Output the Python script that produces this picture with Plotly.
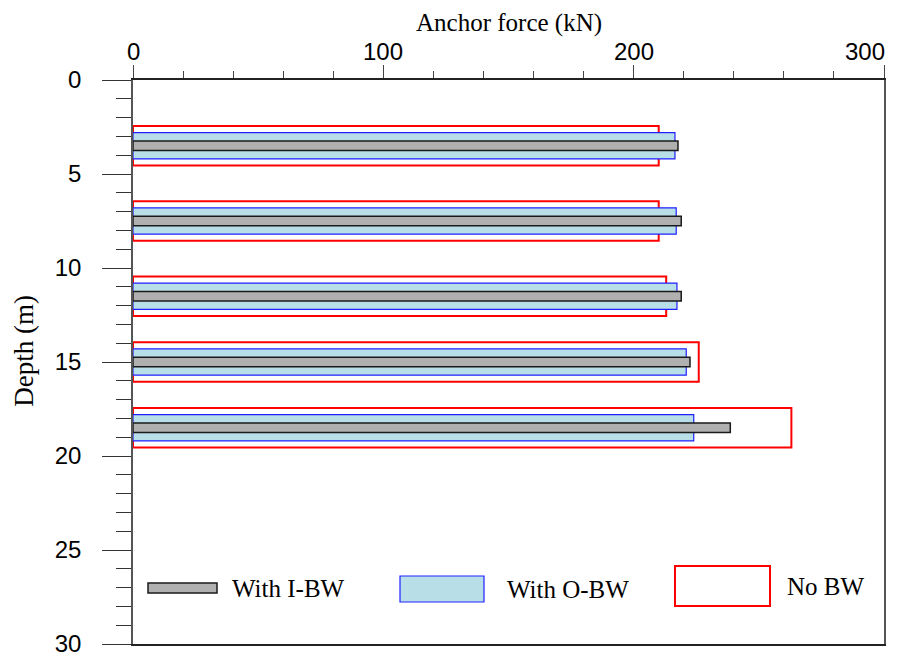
import plotly.graph_objects as go

depths = [3.5, 7.5, 11.5, 15.0, 18.5]
no_bw = [210, 210, 213, 226, 263]
with_obw = [216.5, 217, 217.3, 221, 224]
with_ibw = [217.7, 219, 219, 222.5, 238.6]
x_ticks = [0, 100, 200, 300]
y_ticks = [0, 5, 10, 15, 20, 25, 30]

fig = go.Figure()
fig.add_trace(go.Bar(y=depths, x=no_bw, orientation="h", width=2.1, name="No BW",
                     marker=dict(color="white", line=dict(color="#ff0000", width=2)), showlegend=False))
fig.add_trace(go.Bar(y=depths, x=with_obw, orientation="h", width=1.4, name="With O-BW",
                     marker=dict(color="#b8dee8", line=dict(color="#2020ff", width=1.2)), showlegend=False))
fig.add_trace(go.Bar(y=depths, x=with_ibw, orientation="h", width=0.5, name="With I-BW",
                     marker=dict(color="#b0b0b0", line=dict(color="#1a1a1a", width=1.5)), showlegend=False))

serif = "Liberation Serif, Times New Roman, serif"
sans = "Liberation Sans, Arial, sans-serif"

fig.update_layout(
    width=901, height=659,
    margin=dict(l=133, r=17, t=80, b=15),
    paper_bgcolor="white", plot_bgcolor="white",
    barmode="overlay",
    xaxis=dict(side="top", range=[0, 300], tickvals=x_ticks, ticks="outside", ticklen=13,
               tickcolor="#444", showline=True, linecolor="#222", linewidth=1.5, mirror=True,
               showgrid=False, zeroline=False, automargin=False, showticklabels=False,
               minor=dict(dtick=20, ticks="outside", ticklen=7, tickcolor="#444")),
    yaxis=dict(range=[30, 0], tickvals=y_ticks, ticks="outside", ticklen=29,
               tickcolor="#333", showline=True, linecolor="#555", linewidth=1.5, mirror=True,
               showgrid=False, zeroline=False, automargin=False,
               tickfont=dict(family=sans, size=24, color="black"),
               ticklabelstandoff=16,
               minor=dict(dtick=1, ticks="outside", ticklen=15, tickcolor="#333")),
)

# top axis tick labels
for v in x_ticks:
    last = v == x_ticks[-1]
    fig.add_annotation(text=str(v), xref="x", yref="paper", x=v, y=1.0, yshift=13,
                       xshift=3 if last else 0,
                       showarrow=False, xanchor="right" if last else "center", yanchor="bottom",
                       font=dict(family=sans, size=24, color="black"))

# axis titles
fig.add_annotation(text="Anchor force (kN)", xref="paper", yref="paper", x=0.5, y=1.0,
                   yshift=41, showarrow=False, font=dict(family=serif, size=25, color="black"),
                   xanchor="center", yanchor="bottom")
fig.add_annotation(text="Depth (m)", xref="paper", yref="paper", x=0, xshift=-109, y=0.52,
                   showarrow=False, textangle=-90, font=dict(family=serif, size=27, color="black"),
                   xanchor="center", yanchor="middle")

# legend drawn manually
def px(xp):
    return (xp - 133) / 751.0

def py(yp):
    return (644 - yp) / 564.0

leg = [
    ("With I-BW", (148, 583, 217, 593), "#b0b0b0", "#1a1a1a", 1.5, 230),
    ("With O-BW", (400, 576, 484, 602), "#b8dee8", "#2020ff", 1.2, 505),
    ("No BW", (675, 566, 770, 606), "white", "#ff0000", 2, 785),
]
for label, (x0, y0, x1, y1), fc, lc, lw, tx in leg:
    fig.add_shape(type="rect", xref="paper", yref="paper", x0=px(x0), x1=px(x1), y0=py(y1), y1=py(y0),
                  fillcolor=fc, line=dict(color=lc, width=lw))
    fig.add_annotation(text=label, xref="paper", yref="paper", x=px(tx), y=py((y0 + y1) / 2),
                       xanchor="left", yanchor="middle", showarrow=False,
                       font=dict(family=serif, size=25, color="black"))

fig.write_html("out.html")
